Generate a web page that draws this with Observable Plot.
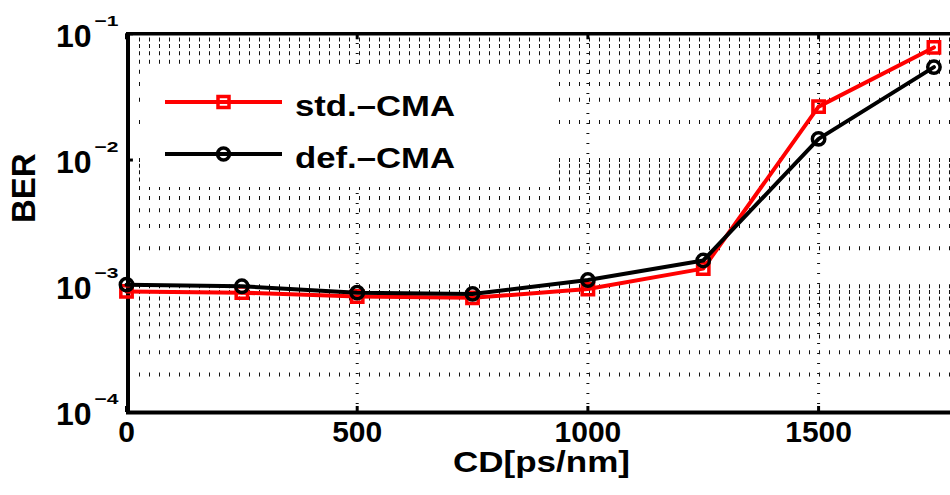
<!DOCTYPE html>
<html><head><meta charset="utf-8">
<script src="https://cdn.jsdelivr.net/npm/d3@7"></script>
<script src="https://cdn.jsdelivr.net/npm/@observablehq/plot@0.6"></script>
<style>
html,body{margin:0;padding:0;background:#fff;}
#chart{width:950px;height:495px;overflow:hidden;}
svg text{font-family:"Liberation Sans",Arial,Helvetica,sans-serif;}
</style></head><body><div id="chart"></div>
<script>
// ---- data ----
const cd = [0, 250, 500, 750, 1000, 1250, 1500, 1750];
const berStd = [9.1e-4, 8.9e-4, 8.3e-4, 8.1e-4, 9.5e-4, 1.38e-3, 2.65e-2, 7.8e-2];
const berDef = [1.03e-3, 1.0e-3, 8.9e-4, 8.7e-4, 1.12e-3, 1.6e-3, 1.47e-2, 5.45e-2];
const seriesNames = ["std.–CMA", "def.–CMA"];
const seriesColors = ["#ff0000", "#000000"];
const xTicks = [0, 500, 1000, 1500];
const yTicks = [1e-4, 1e-3, 1e-2, 1e-1];
const yExponents = ["−4", "−3", "−2", "−1"];
const xLabel = "CD[ps/nm]";
const yLabel = "BER";
const xDomain = [0, 1800];
const yDomain = [1e-4, 1e-1];

// ---- build ----
const stdRows = cd.map((x, i) => ({x, y: berStd[i]}));
const defRows = cd.map((x, i) => ({x, y: berDef[i]}));
const yGrid = d3.scaleLog().domain(yDomain).ticks()
  .filter(v => v > yDomain[0] * 1.001 && v < yDomain[1] * 0.999);
const tickLenY = Math.pow(10, 6 / 126.2);
const bold = {fontWeight: "bold"};

const plot = Plot.plot({
  width: 950, height: 495,
  marginLeft: 126, marginRight: 0, marginTop: 33, marginBottom: 83,
  style: {fontFamily: "Liberation Sans, Arial, sans-serif", background: "#fff"},
  x: {domain: xDomain, range: [126, 956.5], axis: null},
  y: {type: "log", domain: yDomain, range: [412, 33.3], axis: null},
  marks: [
    // grid
    Plot.ruleY(yGrid, {stroke: "#111", strokeWidth: 4, strokeDasharray: "1,9", strokeDashoffset: 7}),
    Plot.ruleX(xTicks.filter(d => d > 0), {stroke: "#111", strokeWidth: 3, strokeDasharray: "1,9"}),
    // axes frame
    Plot.ruleY([yDomain[0]], {stroke: "#000", strokeWidth: 4}),
    Plot.ruleY([yDomain[1]], {stroke: "#000", strokeWidth: 3.5}),
    Plot.ruleX([xDomain[0]], {stroke: "#000", strokeWidth: 4, dx: 1.5}),
    // ticks
    Plot.ruleX(xTicks, {x: d => d, y1: yDomain[0], y2: yDomain[0] * tickLenY, stroke: "#000", strokeWidth: 3}),
    Plot.ruleX(xTicks, {x: d => d, y1: yDomain[1], y2: yDomain[1] / tickLenY, stroke: "#000", strokeWidth: 3}),
    Plot.ruleY(yTicks, {y: d => d, x1: 0, x2: 15, stroke: "#000", strokeWidth: 3}),
    // data
    Plot.line(stdRows, {x: "x", y: "y", stroke: seriesColors[0], strokeWidth: 4}),
    Plot.dot(stdRows, {x: "x", y: "y", symbol: "square", r: 6.4, stroke: seriesColors[0], strokeWidth: 3.5, fill: "none"}),
    Plot.line(defRows, {x: "x", y: "y", stroke: seriesColors[1], strokeWidth: 4}),
    Plot.dot(defRows, {x: "x", y: "y", symbol: "circle", r: 6.2, stroke: seriesColors[1], strokeWidth: 3.5, fill: "none"}),
    // tick labels
    Plot.text(xTicks, {x: d => d, frameAnchor: "bottom", dy: 29, text: d => String(d), fontSize: 30, ...bold, fill: "#000"}),
    Plot.text(yTicks, {y: d => d, frameAnchor: "left", dx: -35, dy: 2.5, text: () => "10", textAnchor: "end", fontSize: 32, ...bold, fill: "#000"}),
    Plot.text(yTicks, {y: d => d, frameAnchor: "left", dx: -32, dy: -13, text: (d, i) => yExponents[i], textAnchor: "start", fontSize: 15, ...bold, fill: "#000", className: "sup"}),
    // axis labels
    Plot.text([xLabel], {frameAnchor: "bottom", dx: 3, dy: 59, fontSize: 30, ...bold, fill: "#000", className: "xlab"}),
    Plot.text([yLabel], {frameAnchor: "left", dx: -102, rotate: -90, fontSize: 33, ...bold, fill: "#000"})
  ]
});

document.getElementById("chart").appendChild(plot);
const svg = d3.select(plot);
svg.selectAll("g.sup text").attr("textLength", 24).attr("lengthAdjust", "spacingAndGlyphs");
svg.selectAll("g.xlab text").attr("textLength", 177).attr("lengthAdjust", "spacingAndGlyphs");

// legend
const lg = svg.append("g").attr("class", "legend").attr("text-anchor", "start");
lg.append("rect").attr("x", 140).attr("y", 67).attr("width", 410).attr("height", 120)
  .attr("fill", "#ffffff").attr("stroke", "none");
const rowsY = [102, 154];
seriesNames.forEach((name, i) => {
  const y = rowsY[i];
  lg.append("line").attr("x1", 165).attr("x2", 282).attr("y1", y).attr("y2", y)
    .attr("stroke", seriesColors[i]).attr("stroke-width", 4);
  if (i === 0) {
    lg.append("rect").attr("x", 223.5 - 5.5).attr("y", y - 5.5).attr("width", 11).attr("height", 11)
      .attr("fill", "none").attr("stroke", seriesColors[i]).attr("stroke-width", 3.5);
  } else {
    lg.append("circle").attr("cx", 223.5).attr("cy", y).attr("r", 6)
      .attr("fill", "none").attr("stroke", seriesColors[i]).attr("stroke-width", 3.5);
  }
  lg.append("text").attr("x", 295).attr("y", y + 14).attr("text-anchor", "start").text(name)
    .attr("font-size", 29).attr("font-weight", "bold").attr("fill", "#000")
    .attr("textLength", 160).attr("lengthAdjust", "spacingAndGlyphs");
});
</script></body></html>
